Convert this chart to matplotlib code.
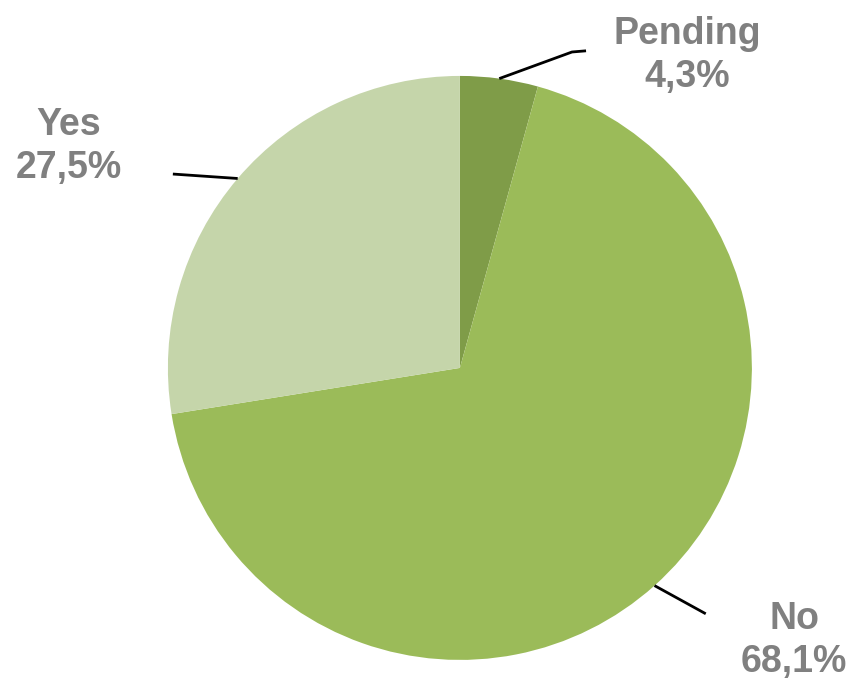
import numpy as np
import matplotlib
matplotlib.use('Agg')
import matplotlib.pyplot as plt

labels = ['Pending', 'No', 'Yes']
values = [4.3, 68.1, 27.5]
pct_text = ['4,3%', '68,1%', '27,5%']
colors = ['#7f9c48', '#9bbb59', '#c5d5aa']

# label placement (data units, pie radius = 1)
text_pos = [(0.78, 1.07), (1.145, -0.935), (-1.34, 0.76)]
line_end = [[(0.384, 1.082), (0.432, 1.086)],
            [(0.842, -0.842)],
            [(-0.983, 0.664)]]

plt.rcParams['font.family'] = ['Liberation Sans', 'DejaVu Sans']

fig = plt.figure(figsize=(8.5, 6.83), dpi=100)
ax = fig.add_axes([0, 0, 1, 1])
wedges, _ = ax.pie(values, colors=colors, startangle=90, counterclock=False,
                   radius=1, wedgeprops=dict(linewidth=0))
ax.set_xlim(-1.575, 1.336)
ax.set_ylim(-1.079, 1.260)
ax.set_aspect('equal')
ax.axis('off')

for w, lab, pct, tp, ends in zip(wedges, labels, pct_text, text_pos, line_end):
    mid = np.deg2rad((w.theta1 + w.theta2) / 2)
    pts = [(np.cos(mid), np.sin(mid))] + ends
    xs, ys = zip(*pts)
    ax.plot(xs, ys, color='black', lw=2, solid_capstyle='butt')
    ax.text(tp[0], tp[1], f'{lab}\n{pct}', ha='center', va='center',
            fontsize=27, fontweight='bold', color='#808080', linespacing=1.25)

fig.savefig('out.png', dpi=100)
